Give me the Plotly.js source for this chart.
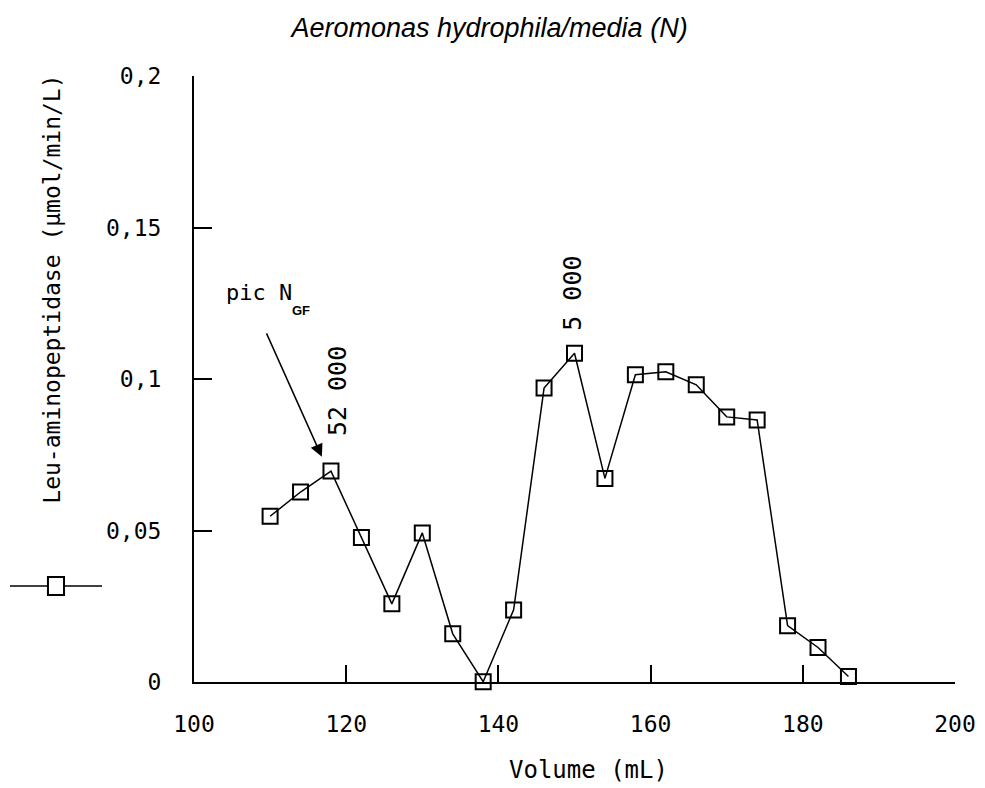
<!DOCTYPE html>
<html>
<head>
<meta charset="utf-8">
<script src="https://cdn.plot.ly/plotly-3.0.1.min.js"></script>
<style>html,body{margin:0;padding:0;background:#fff;}#chart{width:985px;height:788px;}</style>
</head>
<body>
<div id="chart"></div>
<script>
// Data
const volume = [110,114,118,122,126,130,134,138,142,146,150,154,158,162,166,170,174,178,182,186];
const activity = [0.0547,0.0627,0.0696,0.0477,0.0258,0.0492,0.0159,0.0001,0.0238,0.0970,0.1085,0.0672,0.1014,0.1024,0.0981,0.0875,0.0865,0.0186,0.0114,0.0018];
const xTickVals = [100,120,140,160,180,200];
const xTickLabels = ["100","120","140","160","180","200"];
const yTickVals = [0,0.05,0.1,0.15,0.2];
const yTickLabels = ["0","0,05","0,1","0,15","0,2"];
const chartTitle = "Aeromonas hydrophila/media (N)";
const xTitle = "Volume (mL)";
const yTitle = "Leu-aminopeptidase (µmol/min/L)";
const peakLabels = [{x:118, y:0.0696, text:"52 000"},{x:150, y:0.1085, text:"5 000"}];

const mono = "DejaVu Sans Mono, monospace";

const trace = {
  x: volume, y: activity, type: 'scatter', mode: 'lines+markers',
  line: {color: '#000', width: 1.5},
  marker: {symbol: 'square-open', size: 15, color: '#000', line: {width: 2, color: '#000'}},
  cliponaxis: false, showlegend: false, hoverinfo: 'x+y'
};

const layout = {
  width: 985, height: 788,
  margin: {l: 194, r: 30, t: 76, b: 106},
  paper_bgcolor: '#fff', plot_bgcolor: '#fff',
  separators: ', ',
  title: {text: '<i>' + chartTitle + '</i>', x: 0.497, xanchor: 'center', y: 0.965, yanchor: 'middle',
          font: {family: 'Liberation Sans, Arial, sans-serif', size: 27, color: '#000'}},
  xaxis: {
    range: [100, 200], tickvals: xTickVals, ticktext: xTickLabels,
    ticks: 'inside', ticklen: 17, tickwidth: 2, tickcolor: '#000',
    showline: true, linewidth: 2, linecolor: '#000', showgrid: false, zeroline: false,
    tickfont: {family: mono, size: 23, color: '#000'}, ticklabelstandoff: 20
  },
  yaxis: {
    range: [0, 0.2], tickvals: yTickVals, ticktext: yTickLabels,
    ticks: 'inside', ticklen: 18, tickwidth: 2, tickcolor: '#000',
    showline: true, linewidth: 2, linecolor: '#000', showgrid: false, zeroline: false,
    tickfont: {family: mono, size: 23, color: '#000'}, ticklabelstandoff: 26
  },
  annotations: [
    {xref: 'paper', yref: 'paper', x: -0.187, y: 0.6485, text: yTitle, textangle: -90,
     showarrow: false, xanchor: 'center', yanchor: 'middle',
     font: {family: mono, size: 23, color: '#000'}},
    {xref: 'paper', yref: 'paper', x: 0.518, y: -0.146, text: xTitle,
     showarrow: false, xanchor: 'center', yanchor: 'middle',
     font: {family: mono, size: 24, color: '#000'}},
    {xref: 'x', yref: 'y', x: peakLabels[0].x, y: peakLabels[0].y, yshift: 80, xshift: 6, text: peakLabels[0].text,
     textangle: -90, showarrow: false, font: {family: mono, size: 25, color: '#000'}},
    {xref: 'x', yref: 'y', x: peakLabels[1].x, y: peakLabels[1].y, yshift: 60, xshift: -2, text: peakLabels[1].text,
     textangle: -90, showarrow: false, font: {family: mono, size: 25, color: '#000'}},
    {xref: 'x', yref: 'y', x: 104, y: 0.1285, xanchor: 'left', yanchor: 'middle', text: 'pic N',
     showarrow: false, font: {family: mono, size: 22, color: '#000'}},
    {xref: 'x', yref: 'y', x: 112.6, y: 0.1225, xanchor: 'left', yanchor: 'middle', text: '<b>GF</b>',
     showarrow: false, font: {family: 'Liberation Sans, Arial, sans-serif', size: 13, color: '#000'}},
    {xref: 'x', yref: 'y', x: 116.8, y: 0.0743, text: '', showarrow: true,
     ax: -56, ay: -125, arrowhead: 2, arrowsize: 1.7, arrowwidth: 1.5, arrowcolor: '#000'}
  ],
  shapes: [
    {type: 'line', xref: 'paper', yref: 'paper', x0: -0.2418, x1: -0.1209, y0: 0.1584, y1: 0.1584,
     line: {color: '#000', width: 1.5}},
    {type: 'rect', xref: 'paper', yref: 'paper', x0: -0.1919, x1: -0.1708, y0: 0.1436, y1: 0.1733,
     line: {color: '#000', width: 2}, fillcolor: '#fff'}
  ]
};

Plotly.newPlot('chart', [trace], layout, {displayModeBar: false, staticPlot: true});
</script>
</body>
</html>
